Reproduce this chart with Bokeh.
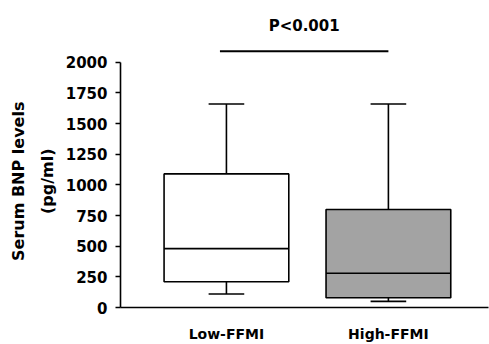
from bokeh.plotting import figure
from bokeh.models import Range1d, FixedTicker, Label
from bokeh.embed import file_html
from bokeh.resources import INLINE

# ---- data ----
groups = ["Low-FFMI", "High-FFMI"]
xpos = [1, 2]
whisker_low = [110, 50]
q1 = [210, 80]
median = [480, 280]
q3 = [1090, 800]
whisker_high = [1660, 1660]
fills = ["#ffffff", "#a3a3a3"]
y_ticks = [0, 250, 500, 750, 1000, 1250, 1500, 1750, 2000]
sig_text = "P<0.001"
sig_y = 2090
sig_x = [0.96, 2.0]
pad = "\u00a0" * 8
y_label = "Serum BNP levels" + pad + "\n(pg/ml)" + pad

FONT = "DejaVu Sans"

p = figure(width=489, height=344, output_backend="svg", toolbar_location=None,
           x_range=Range1d(0.346, 2.618), y_range=Range1d(0, 2423),
           min_border_left=120, min_border_right=1, min_border_top=10, min_border_bottom=36)
p.outline_line_color = None
p.xgrid.grid_line_color = None
p.ygrid.grid_line_color = None
p.background_fill_color = "white"

bw = 0.77
cap = 0.22
# whiskers
p.segment(x0=xpos, x1=xpos, y0=q3, y1=whisker_high, line_color="black", line_width=1.6)
p.segment(x0=xpos, x1=xpos, y0=whisker_low, y1=q1, line_color="black", line_width=1.6)
# caps
p.segment(x0=[x - cap / 2 for x in xpos], x1=[x + cap / 2 for x in xpos], y0=whisker_high, y1=whisker_high,
          line_color="black", line_width=1.6)
p.segment(x0=[x - cap / 2 for x in xpos], x1=[x + cap / 2 for x in xpos], y0=whisker_low, y1=whisker_low,
          line_color="black", line_width=1.6)
# boxes
p.vbar(x=xpos, width=bw, bottom=q1, top=q3, fill_color=fills, line_color="black", line_width=1.6)
# medians
p.segment(x0=[x - bw / 2 for x in xpos], x1=[x + bw / 2 for x in xpos], y0=median, y1=median,
          line_color="black", line_width=1.6)

# significance bar
p.segment(x0=[sig_x[0]], x1=[sig_x[1]], y0=[sig_y], y1=[sig_y], line_color="black", line_width=2)
p.add_layout(Label(x=(sig_x[0] + sig_x[1]) / 2, y=2300, text=sig_text, text_align="center",
                   text_baseline="middle", text_font=FONT, text_font_style="bold",
                   text_font_size="15px", text_color="black"))

# axes
yax = p.yaxis[0]
yax.bounds = (0, 2000)
yax.ticker = FixedTicker(ticks=y_ticks)
yax.minor_tick_line_color = None
yax.major_tick_out = 5
yax.major_tick_in = 0
yax.major_tick_line_width = 1.6
yax.axis_line_width = 1.6
yax.major_label_standoff = 8
yax.major_label_text_font = FONT
yax.major_label_text_font_style = "bold"
yax.major_label_text_font_size = "15px"
yax.major_label_text_color = "black"
yax.axis_label = y_label
yax.axis_label_text_font = FONT
yax.axis_label_text_font_style = "bold"
yax.axis_label_text_font_size = "16px"
yax.axis_label_text_line_height = 1.5
yax.axis_label_text_color = "black"
yax.axis_label_standoff = 6

xax = p.xaxis[0]
xax.ticker = FixedTicker(ticks=xpos)
xax.major_label_overrides = {x: g for x, g in zip(xpos, groups)}
xax.minor_tick_line_color = None
xax.major_tick_out = 0
xax.major_tick_in = 0
xax.axis_line_width = 1.6
xax.major_label_standoff = 18
xax.major_label_text_font = FONT
xax.major_label_text_font_style = "bold"
xax.major_label_text_font_size = "14px"
xax.major_label_text_color = "black"

open("out.html", "w").write(file_html(p, INLINE))
